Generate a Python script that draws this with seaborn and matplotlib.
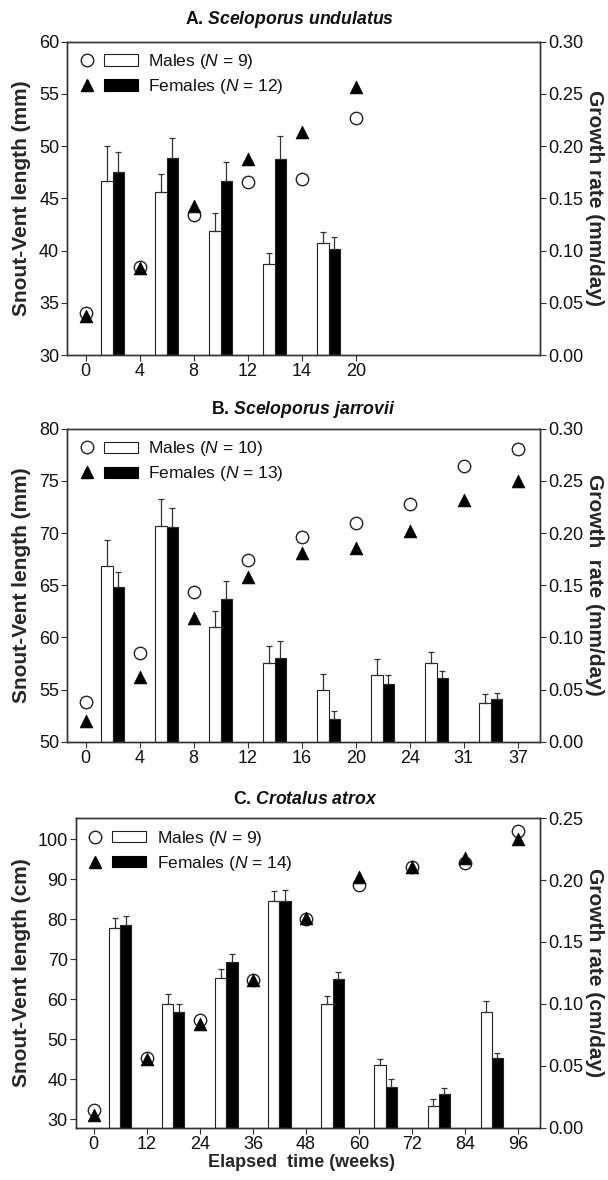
import numpy as np
import pandas as pd
import matplotlib
matplotlib.use("Agg")
import matplotlib.pyplot as plt
import seaborn as sns
from matplotlib.lines import Line2D
from matplotlib.patches import Rectangle
from matplotlib.legend_handler import HandlerTuple
from matplotlib.ticker import FormatStrFormatter, MultipleLocator

# ---------------- data ----------------
A_ticks = ['0', '4', '8', '12', '14', '20']
A_svl_m = [34.0, 38.4, 43.4, 46.6, 46.9, 52.7]
A_svl_f = [33.7, 38.3, 44.3, 48.8, 51.4, 55.7]
A_rate_m = [0.167, 0.156, 0.119, 0.087, 0.107]
A_err_m = [0.033, 0.017, 0.017, 0.011, 0.011]
A_rate_f = [0.175, 0.189, 0.167, 0.188, 0.1015]
A_err_f = [0.019, 0.0185, 0.0175, 0.022, 0.0115]

B_ticks = ['0', '4', '8', '12', '16', '20', '24', '31', '37']
B_svl_m = [53.85, 58.5, 64.35, 67.45, 69.6, 71.0, 72.8, 76.4, 78.1]
B_svl_f = [52.0, 56.2, 61.9, 65.75, 68.1, 68.6, 70.2, 73.2, 75.0]
B_rate_m = [0.168, 0.207, 0.110, 0.075, 0.0496, 0.0643, 0.0754, 0.0367]
B_err_m = [0.025, 0.026, 0.015, 0.017, 0.0155, 0.0147, 0.0106, 0.0093]
B_rate_f = [0.148, 0.206, 0.137, 0.080, 0.0216, 0.055, 0.061, 0.0405]
B_err_f = [0.015, 0.018, 0.017, 0.017, 0.0075, 0.009, 0.007, 0.0065]

C_ticks = ['0', '12', '24', '36', '48', '60', '72', '84', '96']
C_svl_m = [32.2, 45.4, 54.8, 64.8, 80.0, 88.5, 92.9, 94.1, 102.1]
C_svl_f = [31.1, 45.1, 53.8, 64.7, 80.2, 90.6, 93.1, 95.2, 99.9]
C_rate_m = [0.161, 0.100, 0.121, 0.183, 0.100, 0.0505, 0.0174, 0.093]
C_err_m = [0.008, 0.008, 0.007, 0.008, 0.006, 0.0045, 0.0056, 0.009]
C_rate_f = [0.164, 0.093, 0.134, 0.183, 0.120, 0.033, 0.027, 0.056]
C_err_f = [0.007, 0.007, 0.006, 0.009, 0.006, 0.006, 0.005, 0.004]

# ---------------- style ----------------
sns.set_style("ticks")
plt.rcParams['font.family'] = ['Liberation Sans', 'DejaVu Sans']
plt.rcParams['mathtext.fontset'] = 'custom'
plt.rcParams['mathtext.rm'] = 'Liberation Sans'
plt.rcParams['mathtext.it'] = 'Liberation Sans:italic'
plt.rcParams['mathtext.bf'] = 'Liberation Sans:bold'
plt.rcParams['mathtext.bfit'] = 'Liberation Sans:bold:italic'
plt.rcParams['text.color'] = '#111111'

SPINE = '#333333'
TICKFS = 13
LABFS = 15
W_PX, H_PX = 608, 1180

fig = plt.figure(figsize=(W_PX / 100, H_PX / 100), dpi=100)
fig.patch.set_facecolor('white')

panels = [
    dict(ticks=A_ticks, svl_m=A_svl_m, svl_f=A_svl_f, rm=A_rate_m, em=A_err_m,
         rf=A_rate_f, ef=A_err_f, box=(67.3, 41.7, 540, 355), ylim=(30, 60), ystep=5,
         rlim=(0, 0.30), title=(r"A. $\mathbfit{Sceloporus}$ $\mathbfit{undulatus}$", 289.4, 19),
         ylab='Snout-Vent length (mm)', rlab='Growth rate (mm/day)', nm=9, nf=12, xlab=None),
    dict(ticks=B_ticks, svl_m=B_svl_m, svl_f=B_svl_f, rm=B_rate_m, em=B_err_m,
         rf=B_rate_f, ef=B_err_f, box=(67.3, 428.8, 540, 741.7), ylim=(50, 80), ystep=5,
         rlim=(0, 0.30), title=(r"B. $\mathbfit{Sceloporus}$ $\mathbfit{jarrovii}$", 302.8, 409),
         ylab='Snout-Vent length (mm)', rlab='Growth  rate (mm/day)', nm=10, nf=13, xlab=None),
    dict(ticks=C_ticks, svl_m=C_svl_m, svl_f=C_svl_f, rm=C_rate_m, em=C_err_m,
         rf=C_rate_f, ef=C_err_f, box=(75.7, 818.3, 540, 1127.5), ylim=(27.9, 105.2), ystep=10,
         rlim=(0, 0.25), title=(r"C. $\mathbfit{Crotalus}$ $\mathbfit{atrox}$", 305.4, 799),
         ylab='Snout-Vent length (cm)', rlab='Growth rate (cm/day)', nm=9, nf=14,
         xlab='Elapsed  time (weeks)'),
]

XLIM = (-0.34, 8.41)
BARW = 0.42

for p in panels:
    l, t, r, b = p['box']
    wpx, hpx = r - l, b - t
    ax = fig.add_axes([l / W_PX, (H_PX - b) / H_PX, wpx / W_PX, hpx / H_PX])
    ax2 = ax.twinx()

    n = len(p['ticks'])
    nb = len(p['rm'])
    mids = np.arange(nb) + 0.5
    df = pd.DataFrame({
        'mid': np.concatenate([mids, mids]),
        'rate': list(p['rm']) + list(p['rf']),
        'sex': ['Males'] * nb + ['Females'] * nb,
    })
    sns.barplot(data=df, x='mid', y='rate', hue='sex', hue_order=['Males', 'Females'],
                palette={'Males': 'white', 'Females': 'black'}, saturation=1,
                native_scale=True, dodge=True, width=BARW, edgecolor='#222222',
                linewidth=0.8, errorbar=None, legend=False, ax=ax2, zorder=2)
    # one-sided (upper) error bars
    xm = mids - BARW / 4
    xf = mids + BARW / 4
    for xs, vals, errs in ((xm, p['rm'], p['em']), (xf, p['rf'], p['ef'])):
        ax2.errorbar(xs, vals, yerr=[np.zeros(nb), errs], fmt='none', ecolor='#333333',
                     elinewidth=0.9, capsize=2, capthick=0.9, zorder=3)

    idx = np.arange(n)
    sns.scatterplot(x=idx, y=p['svl_m'], marker='o', s=80, color='white',
                    edgecolor='#222222', linewidth=1.0, ax=ax, zorder=3)
    sns.scatterplot(x=idx, y=p['svl_f'], marker='^', s=85, color='black',
                    edgecolor='black', linewidth=0.5, ax=ax, zorder=4)

    ax.set_zorder(ax2.get_zorder() + 1)
    ax.patch.set_visible(False)

    ax.set_xlim(*XLIM)
    ax.set_ylim(*p['ylim'])
    ax2.set_ylim(*p['rlim'])
    ax.set_xticks(idx)
    ax.set_xticklabels(p['ticks'])
    ax.yaxis.set_major_locator(MultipleLocator(p['ystep']))
    ax2.yaxis.set_major_locator(MultipleLocator(0.05))
    ax2.yaxis.set_major_formatter(FormatStrFormatter('%.2f'))

    for a in (ax, ax2):
        for s in a.spines.values():
            s.set_color(SPINE)
            s.set_linewidth(1.0)
        a.tick_params(direction='out', length=4.3, width=0.8, color=SPINE,
                      labelsize=TICKFS, pad=1.5, labelcolor='#111111')

    ax.set_xlabel('')
    ax.set_ylabel(p['ylab'], fontsize=LABFS, fontweight='bold')
    ax.yaxis.set_label_coords((30.6 - l) / wpx, 0.5)
    ax2.set_ylabel(p['rlab'], fontsize=LABFS, fontweight='bold', rotation=270,
                   va='bottom', ha='center', rotation_mode='anchor')
    ax2.yaxis.set_label_coords((585.4 - l) / wpx, 0.5)

    if p['xlab']:
        ax.set_xlabel(p['xlab'], fontsize=13, fontweight='bold')
        ax.xaxis.set_label_coords((301.6 - l) / wpx, -26.7 / hpx)

    ttl, tx, ty = p['title']
    ax.text((tx - l) / wpx, 1 + (t - ty) / hpx, ttl, transform=ax.transAxes,
            ha='center', va='center', fontsize=12.7, fontweight='bold')

    # legend
    hm_c = Line2D([], [], marker='o', ls='none', ms=9, mfc='white', mec='#222222', mew=1.0)
    hm_r = Rectangle((0, 0), 1, 1, facecolor='white', edgecolor='#222222', lw=0.8)
    hf_t = Line2D([], [], marker='^', ls='none', ms=9.2, color='black')
    hf_r = Rectangle((0, 0), 1, 1, facecolor='black', edgecolor='black', lw=0.8)
    lab_m = r"Males ($\mathit{N}$ = %d)" % p['nm']
    lab_f = r"Females ($\mathit{N}$ = %d)" % p['nf']
    leg = ax.legend([(hm_c, hm_r), (hf_t, hf_r)], [lab_m, lab_f],
                    handler_map={tuple: HandlerTuple(ndivide=None, pad=0)},
                    loc='upper left', bbox_to_anchor=(2.5 / wpx, 1 - 10.5 / hpx),
                    frameon=False, fontsize=12.5, handlelength=3.9, handleheight=0.63,
                    handletextpad=0.62, labelspacing=0.35, borderpad=0, borderaxespad=0)

fig.savefig('out.png', dpi=100, facecolor='white')
